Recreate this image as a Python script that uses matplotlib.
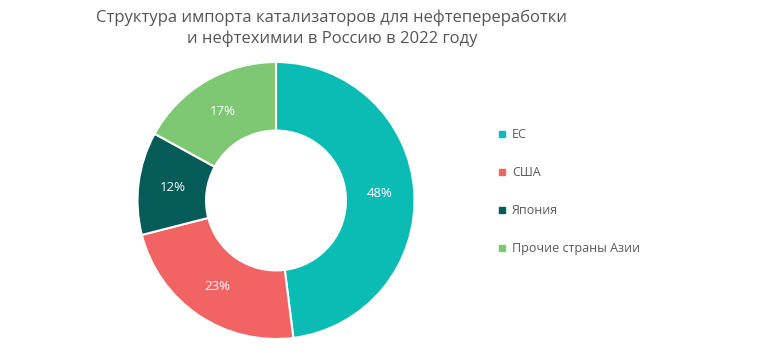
import matplotlib
matplotlib.use("Agg")
import matplotlib.pyplot as plt
from matplotlib.lines import Line2D

categories = ["ЕС", "США", "Япония", "Прочие страны Азии"]
values = [48, 23, 12, 17]
colors = ["#0BBCB5", "#F26463", "#055B57", "#7EC874"]
title = "Структура импорта катализаторов для нефтепереработки\nи нефтехимии в Россию в 2022 году"

plt.rcParams['font.family'] = ['Open Sans', 'DejaVu Sans']

W, H = 770, 353
fig = plt.figure(figsize=(W / 100, H / 100), dpi=100)

cx, cy, r = 276, 200.5, 138.5
ax = fig.add_axes([(cx - r) / W, (H - cy - r) / H, 2 * r / W, 2 * r / H])
wedges, texts, autotexts = ax.pie(
    values, colors=colors, startangle=90, counterclock=False,
    radius=1, autopct=lambda p: f"{p:.0f}%", pctdistance=0.75,
    wedgeprops=dict(width=0.495, edgecolor="white", linewidth=1.5),
    textprops=dict(color="white", fontsize=9.5),
)
ax.set_xlim(-1, 1)
ax.set_ylim(-1, 1)
ax.set_aspect("equal")
ax.axis("off")

fig.text(332 / W, 1 - 28 / H, title, ha="center", va="center",
         fontsize=12, color="#555555", linespacing=1.35)

handles = [Line2D([], [], marker="s", linestyle="", markersize=5,
                  markerfacecolor=c, markeredgecolor=c) for c in colors]
leg = fig.legend(handles, categories, loc="upper left",
                 bbox_to_anchor=(484 / W, 1 - 117 / H), frameon=False,
                 fontsize=9, labelspacing=2.0, handletextpad=0.35,
                 handlelength=1.0, labelcolor="#595959")

fig.savefig("out.png", dpi=100)
